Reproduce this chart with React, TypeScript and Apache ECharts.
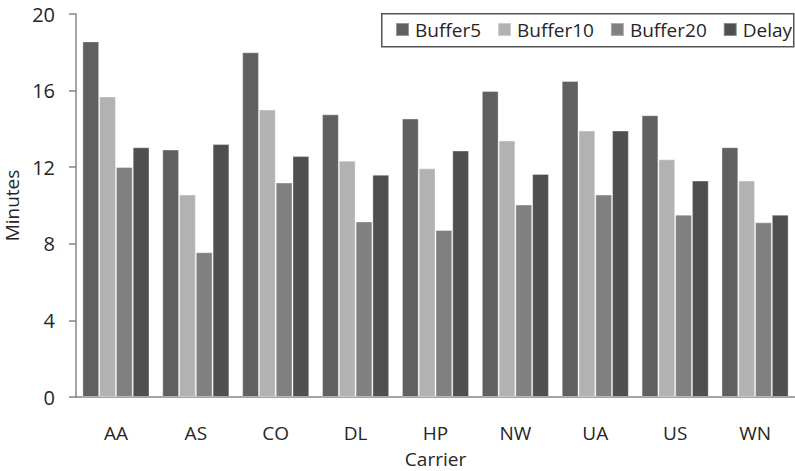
import React, { useEffect, useRef } from "react";
import * as echarts from "echarts";

const categories = ["AA", "AS", "CO", "DL", "HP", "NW", "UA", "US", "WN"];
const buffer5 = [18.57, 12.92, 18.0, 14.76, 14.54, 15.98, 16.5, 14.71, 13.04];
const buffer10 = [15.69, 10.57, 15.01, 12.34, 11.94, 13.39, 13.91, 12.41, 11.3];
const buffer20 = [12.01, 7.56, 11.2, 9.17, 8.72, 10.05, 10.57, 9.52, 9.12];
const delay = [13.04, 13.21, 12.58, 11.61, 12.87, 11.65, 13.91, 11.3, 9.52];
const seriesNames = ["Buffer5", "Buffer10", "Buffer20", "Delay"];
const seriesColors = ["#606060", "#b2b2b2", "#808080", "#4f4f4f"];
const yTicks = { min: 0, max: 20, interval: 4 };

const FONT = "Open Sans";

export default function App() {
  const ref = useRef<HTMLDivElement>(null);
  useEffect(() => {
    if (!ref.current) return;
    const chart = echarts.init(ref.current, undefined, { renderer: "svg" });
    const data = [buffer5, buffer10, buffer20, delay];
    chart.setOption({
      animation: false,
      textStyle: { fontFamily: FONT },
      grid: {
        left: 76,
        right: 0,
        top: 14,
        bottom: 74,
        containLabel: false,
        outerBoundsMode: "none",
      },
      graphic: [
        {
          type: "rect",
          left: 381,
          top: 13,
          shape: { width: 412, height: 33 },
          style: { fill: "#fff", stroke: "#555", lineWidth: 1.5 },
          z: 10,
        },
      ],
      legend: {
        left: 395,
        top: 19.5,
        padding: 0,
        itemWidth: 13,
        itemHeight: 13,
        itemGap: 16,
        icon: "rect",
        z: 20,
        textStyle: {
          fontFamily: FONT,
          fontSize: 19,
          lineHeight: 20,
          color: "#262626",
          padding: [0, 0, 0, 1],
        },
        data: seriesNames,
      },
      xAxis: {
        type: "category",
        data: categories,
        name: "Carrier",
        nameLocation: "middle",
        nameGap: 53,
        nameTextStyle: { fontFamily: FONT, fontSize: 19, lineHeight: 18, color: "#262626" },
        axisTick: { show: false },
        axisLine: { lineStyle: { color: "#868686", width: 1.5 } },
        axisLabel: { fontFamily: FONT, fontSize: 19, color: "#262626", margin: 26 },
      },
      yAxis: {
        type: "value",
        min: yTicks.min,
        max: yTicks.max,
        interval: yTicks.interval,
        name: "Minutes",
        nameLocation: "middle",
        nameGap: 51,
        nameTextStyle: { fontFamily: FONT, fontSize: 19, lineHeight: 18, color: "#262626" },
        axisLine: { show: true, lineStyle: { color: "#868686", width: 1.5 } },
        axisTick: { show: true, length: 7, lineStyle: { color: "#868686", width: 1.5 } },
        splitLine: { show: false },
        axisLabel: { fontFamily: FONT, fontSize: 20, color: "#262626", margin: 21 },
      },
      series: seriesNames.map((n, i) => ({
        name: n,
        type: "bar",
        data: data[i],
        barGap: "0%",
        barCategoryGap: "16%",
        itemStyle: {
          color: seriesColors[i],
          borderColor: "rgba(255,255,255,0.35)",
          borderWidth: 1,
        },
      })),
    });
    return () => chart.dispose();
  }, []);
  return <div ref={ref} style={{ width: 795, height: 471, position: "absolute", left: 0, top: 0 }} />;
}
